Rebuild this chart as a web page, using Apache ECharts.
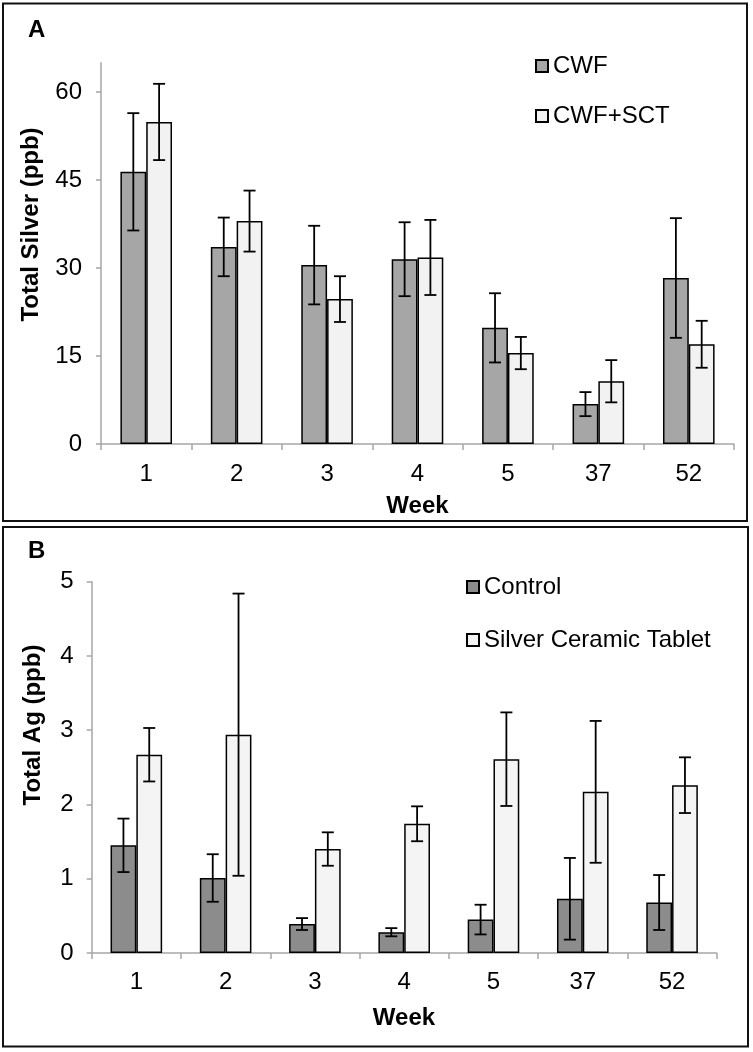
<!DOCTYPE html>
<html>
<head>
<meta charset="utf-8">
<script src="https://cdn.jsdelivr.net/npm/echarts@6/dist/echarts.min.js"></script>
<style>
html,body{margin:0;padding:0;background:#fff;}
#chart{width:753px;height:1052px;}
</style>
</head>
<body>
<div id="chart"></div>
<script>
// ---- data ----
const weeks = ['1', '2', '3', '4', '5', '37', '52'];
// Panel A
const cwfMean = [46.4, 33.6, 30.5, 31.5, 19.8, 6.8, 28.3];
const cwfErr  = [10.0, 5.0, 6.7, 6.3, 5.9, 2.05, 10.2];
const sctMean = [54.9, 38.0, 24.7, 31.8, 15.5, 10.7, 17.0];
const sctErr  = [6.5, 5.2, 3.9, 6.4, 2.75, 3.6, 4.0];
const yTicksA = [0, 15, 30, 45, 60];
// Panel B
const controlMean = [1.45, 1.01, 0.39, 0.28, 0.45, 0.73, 0.68];
const controlErr  = [0.36, 0.32, 0.08, 0.055, 0.2, 0.55, 0.37];
const tabletMean  = [2.67, 2.94, 1.40, 1.74, 2.61, 2.17, 2.26];
const tabletErr   = [0.36, 1.9, 0.225, 0.235, 0.63, 0.955, 0.375];
const yTicksB = [0, 1, 2, 3, 4, 5];

// ---- styles ----
const FONT = "'Liberation Sans', Arial, Helvetica, sans-serif";
const BAR_W = 25.8;
const AXIS_GRAY = '#a6a6a6';

function errRender(offset) {
  return function (params, api) {
    const i = api.value(0), m = api.value(1), e = api.value(2);
    const top = api.coord([i, m + e]);
    const bot = api.coord([i, m - e]);
    const x = top[0] + offset;
    const cap = 6;
    const st = { stroke: '#000', lineWidth: 1.8 };
    return {
      type: 'group',
      children: [
        { type: 'line', shape: { x1: x, y1: top[1], x2: x, y2: bot[1] }, style: st },
        { type: 'line', shape: { x1: x - cap, y1: top[1], x2: x + cap, y2: top[1] }, style: st },
        { type: 'line', shape: { x1: x - cap, y1: bot[1], x2: x + cap, y2: bot[1] }, style: st }
      ]
    };
  };
}
function errData(mean, err) { return mean.map((m, i) => [i, m, err[i]]); }

function xAxisCfg(gridIndex, margin) {
  return {
    type: 'category', gridIndex, data: weeks, boundaryGap: true,
    axisLine: { lineStyle: { color: AXIS_GRAY, width: 1.5 } },
    axisTick: { show: true, alignWithLabel: false, length: 6, inside: false, lineStyle: { color: AXIS_GRAY, width: 1.5 } },
    axisLabel: { color: '#000', fontSize: 24, fontFamily: FONT, margin: margin }
  };
}
function yAxisCfg(gridIndex, max, interval, ticks, margin) {
  return {
    type: 'value', gridIndex, min: 0, max, interval,
    splitLine: { show: false },
    axisLine: { show: true, lineStyle: { color: AXIS_GRAY, width: 1.5 } },
    axisTick: { show: true, length: 5, customValues: ticks, lineStyle: { color: AXIS_GRAY, width: 1.5 } },
    axisLabel: { color: '#000', fontSize: 24, fontFamily: FONT, margin: margin, customValues: ticks }
  };
}
function barSeries(name, data, color, xi) {
  return {
    name, type: 'bar', xAxisIndex: xi, yAxisIndex: xi, data,
    barWidth: BAR_W, barGap: '0%',
    itemStyle: { color, borderColor: '#000', borderWidth: 1.5 },
    emphasis: { disabled: true }
  };
}
function errSeries(mean, err, offset, xi) {
  return {
    type: 'custom', xAxisIndex: xi, yAxisIndex: xi, z: 5,
    renderItem: errRender(offset), data: errData(mean, err),
    encode: { x: 0, y: 1 }, silent: true
  };
}

const chart = echarts.init(document.getElementById('chart'), null, { renderer: 'canvas' });
chart.setOption({
  animation: false,
  backgroundColor: '#fff',
  textStyle: { fontFamily: FONT },
  grid: [
    { left: 101, top: 62.7, width: 633, height: 381.3 },
    { left: 91.7, top: 581.7, width: 625, height: 371.3 }
  ],
  xAxis: [xAxisCfg(0, 18), xAxisCfg(1, 17)],
  yAxis: [yAxisCfg(0, 65, 15, yTicksA, 19), yAxisCfg(1, 5, 1, yTicksB, 18)],
  legend: [
    {
      data: ['CWF', 'CWF+SCT'], orient: 'vertical', left: 530, top: 49,
      itemWidth: 12, itemHeight: 12, itemGap: 26, icon: 'rect',
      textStyle: { fontSize: 24, fontFamily: FONT, color: '#000', lineHeight: 24 },
      selectedMode: false
    },
    {
      data: ['Control', 'Silver Ceramic Tablet'], orient: 'vertical', left: 461, top: 570,
      itemWidth: 12, itemHeight: 12, itemGap: 29, icon: 'rect',
      textStyle: { fontSize: 24, fontFamily: FONT, color: '#000', lineHeight: 24 },
      selectedMode: false
    }
  ],
  series: [
    barSeries('CWF', cwfMean, '#a6a6a6', 0),
    barSeries('CWF+SCT', sctMean, '#f2f2f2', 0),
    errSeries(cwfMean, cwfErr, -BAR_W / 2, 0),
    errSeries(sctMean, sctErr, BAR_W / 2, 0),
    barSeries('Control', controlMean, '#8c8c8c', 1),
    barSeries('Silver Ceramic Tablet', tabletMean, '#f4f4f4', 1),
    errSeries(controlMean, controlErr, -BAR_W / 2, 1),
    errSeries(tabletMean, tabletErr, BAR_W / 2, 1)
  ],
  graphic: [
    { type: 'rect', shape: { x: 3, y: 3.5, width: 744, height: 517.5 }, style: { fill: 'none', stroke: '#111', lineWidth: 2 }, silent: true },
    { type: 'rect', shape: { x: 3, y: 527, width: 745, height: 519.5 }, style: { fill: 'none', stroke: '#111', lineWidth: 2 }, silent: true },
    { type: 'text', left: 28, top: 18, style: { text: 'A', font: "bold 24px " + FONT, fill: '#000' } },
    { type: 'text', left: 28, top: 539, style: { text: 'B', font: "bold 24px " + FONT, fill: '#000' } },
    { type: 'text', x: 31, y: 224.5, rotation: Math.PI / 2,
      style: { text: 'Total Silver (ppb)', font: "bold 24px " + FONT, fill: '#000', textAlign: 'center', textVerticalAlign: 'middle' } },
    { type: 'text', x: 33, y: 725, rotation: Math.PI / 2,
      style: { text: 'Total Ag (ppb)', font: "bold 24px " + FONT, fill: '#000', textAlign: 'center', textVerticalAlign: 'middle' } },
    { type: 'text', x: 417.5, y: 506.5,
      style: { text: 'Week', font: "bold 24px " + FONT, fill: '#000', textAlign: 'center', textVerticalAlign: 'middle' } },
    { type: 'text', x: 404, y: 1018.5,
      style: { text: 'Week', font: "bold 24px " + FONT, fill: '#000', textAlign: 'center', textVerticalAlign: 'middle' } }
  ]
});
</script>
</body>
</html>
